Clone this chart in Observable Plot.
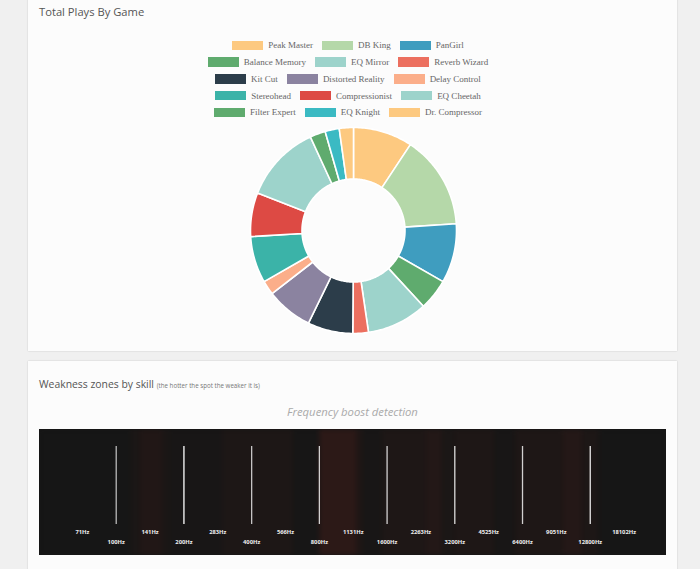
<!DOCTYPE html>
<html><head><meta charset="utf-8">
<script src="https://cdn.jsdelivr.net/npm/d3@7"></script>
<script src="https://cdn.jsdelivr.net/npm/@observablehq/plot@0.6"></script>
<style>
body{margin:0;background:#f0f0f0;width:700px;height:569px;overflow:hidden;position:relative;font-family:"Open Sans",sans-serif;}
.panel{position:absolute;left:28px;width:649px;background:#fcfcfc;box-shadow:0 0 1.5px rgba(0,0,0,0.18);}
#p1{top:-12px;height:363px;}
#p2{top:361px;height:240px;}
.abs{position:absolute;}
#t1{left:39px;top:4px;font-size:11.2px;color:#555;white-space:nowrap;}
#t2{left:39px;top:377px;font-size:10.4px;color:#555;white-space:nowrap;}
#t2 small{font-size:6.2px;color:#777;}
#t3{left:28px;width:649px;top:404px;text-align:center;font-size:11.3px;font-style:italic;color:#aaa;}
#legend{left:28px;width:649px;top:37px;}
.row{height:16.75px;display:flex;justify-content:center;align-items:center;}
.item{display:flex;align-items:center;margin-right:9px;font-family:"Liberation Serif",serif;font-size:9px;color:#666;white-space:nowrap;}
.sw{width:31px;height:9.5px;margin-right:5px;}
#donut{left:247.5px;top:125px;}
#heat{left:39px;top:429px;}
#heat g[aria-label="rect"]{filter:blur(2.5px);}
</style></head>
<body>
<div class="panel" id="p1"></div>
<div class="panel" id="p2"></div>
<div class="abs" id="t1">Total Plays By Game</div>
<div class="abs" id="legend"></div>
<div class="abs" id="donut"></div>
<div class="abs" id="t2">Weakness zones by skill <small>(the hotter the spot the weaker it is)</small></div>
<div class="abs" id="t3">Frequency boost detection</div>
<div class="abs" id="heat"></div>
<script>
// ---- Data: Total Plays By Game ----
const games = ["Peak Master","DB King","PanGirl","Balance Memory","EQ Mirror","Reverb Wizard","Kit Cut","Distorted Reality","Delay Control","Stereohead","Compressionist","EQ Cheetah","Filter Expert","EQ Knight","Dr. Compressor"];
const plays = [42, 66, 42, 22, 43, 11, 32, 33, 10, 33, 31, 55, 11, 10, 10];
const gameColors = ["#fdc980","#b5d8a9","#3f9dbf","#5fab6e","#9dd3cb","#ec6f5f","#2c3d4a","#8b83a0","#fbae8a","#3bb3a8","#dd4a44","#9dd3cb","#5fab6e","#3bbac3","#fdc980"];
const legendPerRow = 3;

// ---- Data: Weakness zones ----
const bandEdges = [45.6, 116, 128, 161, 174, 297, 615, 803, 1173, 1247, 1515, 2378, 2830, 3200, 4820, 5920, 9680, 11880, 14130, 27940];
const bandHeat = [0, 0.2, 0.45, 0.2, 0.1, 0.3, 0.05, 0.9, 0.4, 0.1, 0.35, 0.55, 0.2, 0.35, 0.1, 0.35, 0.6, 0.3, 0];
const lineFreqs = [100, 200, 400, 800, 1600, 3200, 6400, 12800];
const lineShade = [0.7, 1, 0.75, 0.8, 0.8, 0.85, 0.8, 0.9];
const labelFreqs = [70.7, 100, 141.4, 200, 282.8, 400, 565.7, 800, 1131.4, 1600, 2262.7, 3200, 4525.5, 6400, 9050.9, 12800, 18101.9];
const labelText = ["71Hz","100Hz","141Hz","200Hz","283Hz","400Hz","566Hz","800Hz","1131Hz","1600Hz","2263Hz","3200Hz","4525Hz","6400Hz","9051Hz","12800Hz","18102Hz"];

// ---- Legend ----
const legend = document.getElementById("legend");
for (let r = 0; r < games.length; r += legendPerRow) {
  const row = document.createElement("div");
  row.className = "row";
  games.slice(r, r + legendPerRow).forEach((g, k) => {
    const it = document.createElement("div");
    it.className = "item";
    const sw = document.createElement("span");
    sw.className = "sw";
    sw.style.background = gameColors[r + k];
    it.appendChild(sw);
    it.appendChild(document.createTextNode(g));
    row.appendChild(it);
  });
  legend.appendChild(row);
}

// ---- Donut ----
const rows = games.map((g, i) => ({game: g, plays: plays[i]}));
const arcs = d3.pie().sort(null).value(d => d.plays)(rows);
const inner = 0.5;
const pts = [];
for (const a of arcs) {
  const n = Math.max(2, Math.ceil((a.endAngle - a.startAngle) / (Math.PI / 180)));
  for (let k = 0; k <= n; k++) {
    const t = a.startAngle + (a.endAngle - a.startAngle) * k / n;
    pts.push({game: a.data.game, x: Math.sin(t), y: Math.cos(t)});
  }
  for (let k = n; k >= 0; k--) {
    const t = a.startAngle + (a.endAngle - a.startAngle) * k / n;
    pts.push({game: a.data.game, x: inner * Math.sin(t), y: inner * Math.cos(t)});
  }
}
const R = 105 / 103;
document.getElementById("donut").appendChild(Plot.plot({
  width: 210, height: 210, margin: 0,
  style: {background: "transparent"},
  x: {domain: [-R, R], axis: null},
  y: {domain: [-R, R], axis: null},
  color: {type: "ordinal", domain: games, range: gameColors},
  marks: [
    Plot.line(pts, {x: "x", y: "y", z: "game", fill: "game", stroke: "#fff", strokeWidth: 1.6, curve: "linear-closed"})
  ]
}));

// ---- Heat strip ----
const bands = bandHeat.map((h, i) => ({f0: bandEdges[i], f1: bandEdges[i + 1], heat: h}));
const lines = lineFreqs.map((f, i) => ({f, shade: lineShade[i]}));
const labels = labelFreqs.map((f, i) => ({f, text: labelText[i], odd: i % 2 === 0}));
document.getElementById("heat").appendChild(Plot.plot({
  width: 627, height: 126, margin: 0,
  style: {background: "#161616", fontFamily: "'Open Sans', sans-serif"},
  x: {type: "log", domain: [bandEdges[0], bandEdges[bandEdges.length - 1]], axis: null},
  color: {type: "linear", domain: [0, 1], range: ["#161616", "#2e1917"]},
  marks: [
    Plot.rectX(bands, {x1: "f0", x2: "f1", fill: "heat"}),
    Plot.ruleX(lines, {x: "f", stroke: "#fff", strokeOpacity: "shade", strokeWidth: 1.3, insetTop: 17, insetBottom: 31}),
    Plot.text(labels.filter(d => d.odd), {x: "f", text: "text", frameAnchor: "top", dy: 100, fill: "#eeeeee", fontSize: 5.8, fontWeight: "bold"}),
    Plot.text(labels.filter(d => !d.odd), {x: "f", text: "text", frameAnchor: "top", dy: 110, fill: "#eeeeee", fontSize: 5.8, fontWeight: "bold"})
  ]
}));
</script>
</body></html>
